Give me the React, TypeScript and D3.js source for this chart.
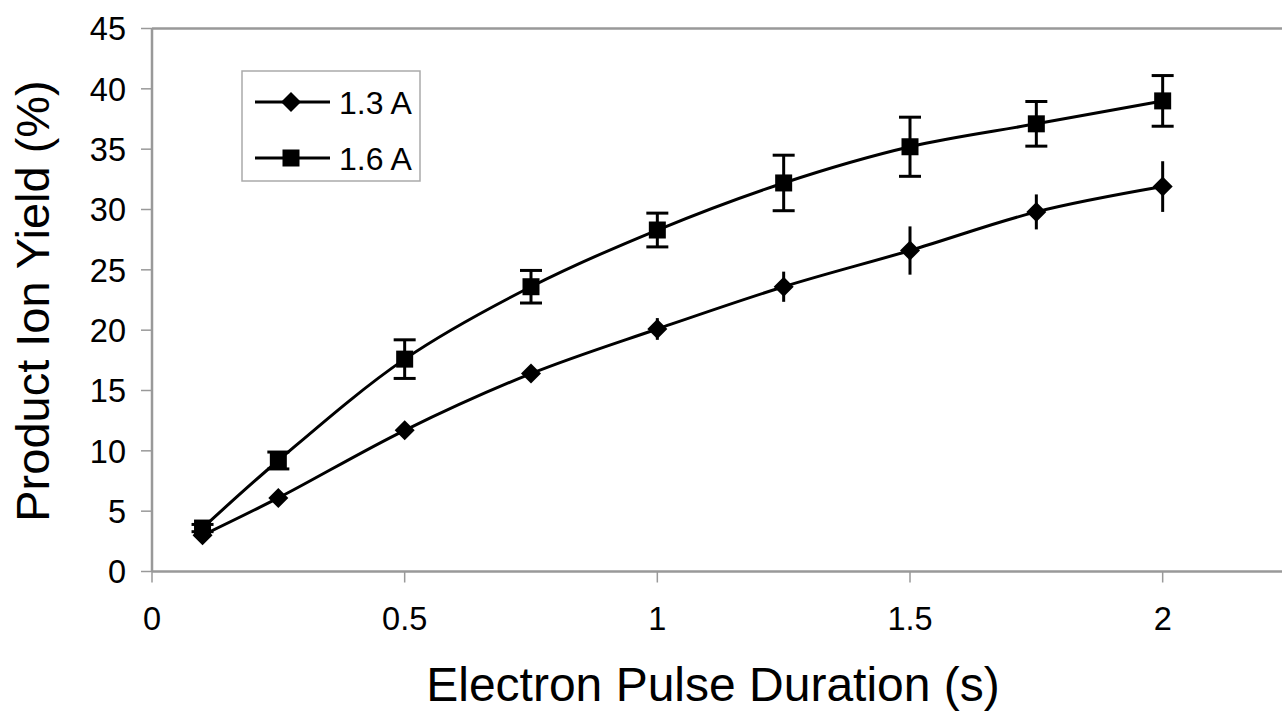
import React, { useEffect, useRef } from 'react';
import * as d3 from 'd3';

const durations = [0.1, 0.25, 0.5, 0.75, 1, 1.25, 1.5, 1.75, 2];
const yield13 = [3.0, 6.1, 11.7, 16.4, 20.1, 23.6, 26.6, 29.8, 31.9];
const err13 = [0.3, 0.4, 0.5, 0.5, 0.9, 1.25, 2.0, 1.45, 2.1];
const yield16 = [3.6, 9.2, 17.6, 23.6, 28.3, 32.2, 35.2, 37.1, 39.0];
const err16 = [0.3, 0.7, 1.6, 1.35, 1.4, 2.3, 2.45, 1.85, 2.1];
const xTicks = [0, 0.5, 1, 1.5, 2];
const yTicks = [0, 5, 10, 15, 20, 25, 30, 35, 40, 45];
const seriesNames = ['1.3 A', '1.6 A'];

const W = 1282;
const H = 711;

const App = () => {
    const svgRef = useRef(null);

    useEffect(() => {
        const svg = d3.select(svgRef.current);
        svg.selectAll('*').remove();

        const x = d3.scaleLinear().domain([0, 2.25]).range([152, 1289]);
        const y = d3.scaleLinear().domain([0, 45]).range([571.5, 28.5]);
        const font = 'Liberation Sans, Arial, sans-serif';
        const axisColor = '#999999';

        // plot frame: top border and axes
        svg.append('line')
            .attr('x1', x(0)).attr('x2', W)
            .attr('y1', y(45)).attr('y2', y(45))
            .style('stroke', axisColor).style('stroke-width', 2.5);
        svg.append('line')
            .attr('x1', x(0)).attr('x2', x(0))
            .attr('y1', y(45)).attr('y2', y(0))
            .style('stroke', axisColor).style('stroke-width', 2.5);
        svg.append('line')
            .attr('x1', x(0)).attr('x2', W)
            .attr('y1', y(0)).attr('y2', y(0))
            .style('stroke', axisColor).style('stroke-width', 2.5);

        // y ticks
        const yt = svg.append('g').selectAll('g').data(yTicks).enter().append('g');
        yt.append('line')
            .attr('x1', x(0) - 11).attr('x2', x(0))
            .attr('y1', d => y(d)).attr('y2', d => y(d))
            .style('stroke', axisColor).style('stroke-width', 1.5);
        yt.append('text')
            .attr('x', x(0) - 26).attr('y', d => y(d))
            .attr('dy', '0.36em')
            .style('text-anchor', 'end')
            .style('font-family', font).style('font-size', '32.5px')
            .text(d => d);

        // x ticks
        const xt = svg.append('g').selectAll('g').data(xTicks).enter().append('g');
        xt.append('line')
            .attr('x1', d => x(d)).attr('x2', d => x(d))
            .attr('y1', y(0)).attr('y2', y(0) + 11)
            .style('stroke', axisColor).style('stroke-width', 1.5);
        xt.append('text')
            .attr('x', d => x(d)).attr('y', 630)
            .style('text-anchor', 'middle')
            .style('font-family', font).style('font-size', '32.5px')
            .text(d => d);

        // axis titles
        svg.append('text')
            .attr('x', 713).attr('y', 701)
            .style('text-anchor', 'middle')
            .style('font-family', font).style('font-size', '48px')
            .text('Electron Pulse Duration (s)');
        svg.append('text')
            .attr('transform', `translate(49, 301) rotate(-90)`)
            .style('text-anchor', 'middle')
            .style('font-family', font).style('font-size', '47px')
            .text('Product Ion Yield (%)');

        const line = d3.line()
            .x(d => x(d[0]))
            .y(d => y(d[1]))
            .curve(d3.curveCatmullRom.alpha(0.5));

        const diamond = (cx, cy, r) =>
            `M${cx},${cy - r}L${cx + r},${cy}L${cx},${cy + r}L${cx - r},${cy}Z`;

        const plot = svg.append('g');

        // error bars
        durations.forEach((d, i) => {
            // 1.3 A: no caps
            plot.append('line')
                .attr('x1', x(d)).attr('x2', x(d))
                .attr('y1', y(yield13[i] + err13[i])).attr('y2', y(yield13[i] - err13[i]))
                .style('stroke', 'black').style('stroke-width', 3);
            // 1.6 A: with caps
            const e = plot.append('g');
            e.append('line')
                .attr('x1', x(d)).attr('x2', x(d))
                .attr('y1', y(yield16[i] + err16[i])).attr('y2', y(yield16[i] - err16[i]))
                .style('stroke', 'black').style('stroke-width', 3);
            [yield16[i] + err16[i], yield16[i] - err16[i]].forEach(v => {
                e.append('line')
                    .attr('x1', x(d) - 11).attr('x2', x(d) + 11)
                    .attr('y1', y(v)).attr('y2', y(v))
                    .style('stroke', 'black').style('stroke-width', 3);
            });
        });

        const pts13 = durations.map((d, i) => [d, yield13[i]]);
        const pts16 = durations.map((d, i) => [d, yield16[i]]);

        plot.append('path').attr('d', line(pts13))
            .style('fill', 'none').style('stroke', 'black').style('stroke-width', 3);
        plot.append('path').attr('d', line(pts16))
            .style('fill', 'none').style('stroke', 'black').style('stroke-width', 3);

        pts13.forEach(p => {
            plot.append('path').attr('d', diamond(x(p[0]), y(p[1]), 10)).style('fill', 'black');
        });
        pts16.forEach(p => {
            plot.append('rect')
                .attr('x', x(p[0]) - 8.5).attr('y', y(p[1]) - 8.5)
                .attr('width', 17).attr('height', 17)
                .style('fill', 'black');
        });

        // legend
        const lg = svg.append('g');
        lg.append('rect')
            .attr('x', 242).attr('y', 71).attr('width', 178).attr('height', 110)
            .style('fill', 'white').style('stroke', '#aaaaaa').style('stroke-width', 1.5);
        seriesNames.forEach((name, i) => {
            const ly = 102 + i * 56;
            lg.append('line')
                .attr('x1', 255).attr('x2', 330).attr('y1', ly).attr('y2', ly)
                .style('stroke', 'black').style('stroke-width', 3);
            if (i === 0) {
                lg.append('path').attr('d', diamond(291, ly, 10)).style('fill', 'black');
            } else {
                lg.append('rect')
                    .attr('x', 282.5).attr('y', ly - 8.5).attr('width', 17).attr('height', 17)
                    .style('fill', 'black');
            }
            lg.append('text')
                .attr('x', 339).attr('y', ly).attr('dy', '0.36em')
                .style('font-family', font).style('font-size', '32px')
                .text(name);
        });
    }, []);

    return (
        <div style={{ position: 'fixed', left: 0, top: 0 }}>
            <svg ref={svgRef} width={W} height={H} style={{ display: 'block', background: 'white' }}></svg>
        </div>
    );
};

export default App;
